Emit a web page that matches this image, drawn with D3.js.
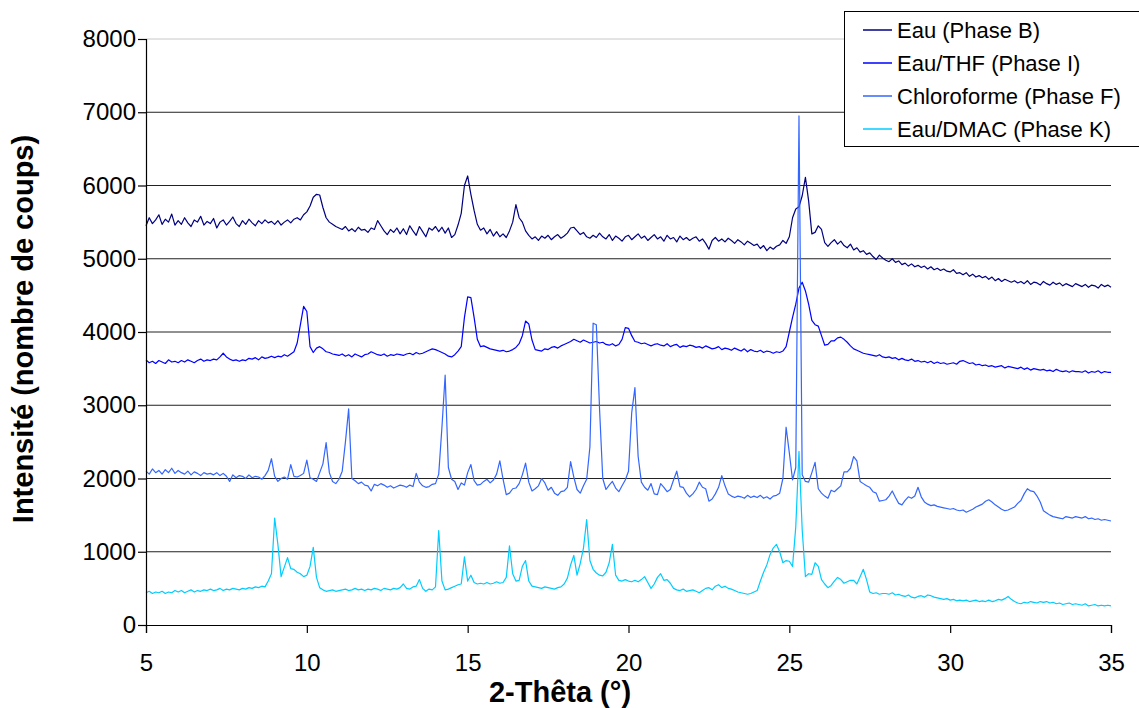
<!DOCTYPE html>
<html>
<head>
<meta charset="utf-8">
<script src="https://cdn.jsdelivr.net/npm/d3@7"></script>
<style>
  html, body { margin: 0; padding: 0; background: #fff; }
  svg { display: block; }
  text { font-family: "Liberation Sans", Arial, sans-serif; fill: #000; }
</style>
</head>
<body>
<svg id="chart" width="1139" height="708"></svg>
<script>
// ---- data (2-Thêta grid: 5.0° → 35.0°, step 0.1°) ----
const twoTheta = d3.range(301).map(i => +(5 + i * 0.1).toFixed(1));

const seriesNames = ["Eau (Phase B)", "Eau/THF (Phase I)", "Chloroforme (Phase F)", "Eau/DMAC (Phase K)"];
const seriesColors = ["#000080", "#0000FF", "#3366FF", "#00CCFF"];

const eauB = [
  5450,5560,5480,5530,5600,5470,5540,5500,5610,5460,
  5520,5470,5560,5490,5440,5530,5500,5580,5460,5510,
  5480,5550,5420,5500,5530,5460,5510,5570,5480,5440,
  5520,5470,5540,5490,5450,5520,5480,5530,5490,5510,
  5470,5520,5460,5500,5530,5490,5540,5560,5530,5600,
  5640,5720,5840,5880,5870,5700,5560,5500,5470,5440,
  5420,5400,5440,5380,5410,5370,5430,5390,5400,5360,
  5420,5400,5520,5450,5380,5330,5400,5360,5420,5340,
  5410,5330,5450,5380,5320,5440,5370,5300,5420,5390,
  5440,5370,5430,5350,5420,5290,5330,5460,5620,6000,
  6130,5880,5660,5470,5390,5420,5340,5400,5310,5370,
  5300,5340,5290,5380,5500,5740,5560,5500,5380,5320,
  5270,5300,5250,5310,5280,5320,5260,5300,5330,5280,
  5310,5350,5420,5430,5380,5330,5360,5300,5280,5320,
  5290,5350,5300,5270,5330,5250,5310,5280,5240,5300,
  5320,5260,5300,5340,5280,5310,5250,5290,5330,5270,
  5300,5240,5320,5270,5290,5230,5310,5260,5290,5250,
  5280,5300,5240,5270,5210,5130,5250,5290,5240,5270,
  5230,5280,5250,5210,5260,5230,5190,5240,5210,5180,
  5200,5140,5180,5110,5160,5130,5170,5190,5250,5210,
  5300,5560,5680,5710,5860,6110,5790,5340,5360,5450,
  5400,5220,5170,5220,5260,5200,5240,5180,5150,5200,
  5120,5150,5090,5110,5060,5080,5030,4990,5050,5010,
  4980,4960,5000,4950,4970,4920,4940,4900,4930,4890,
  4910,4880,4900,4860,4890,4850,4870,4840,4860,4830,
  4820,4850,4800,4810,4780,4810,4760,4790,4750,4770,
  4740,4760,4720,4750,4700,4730,4690,4720,4700,4680,
  4700,4670,4690,4660,4700,4650,4680,4670,4640,4690,
  4660,4640,4680,4650,4670,4630,4660,4640,4620,4660,
  4640,4620,4650,4610,4640,4630,4600,4650,4620,4640,
  4610
];

const eauThfI = [
  3620,3580,3600,3570,3610,3590,3570,3620,3590,3600,
  3580,3610,3590,3620,3600,3580,3610,3630,3600,3620,
  3610,3630,3620,3660,3710,3660,3630,3610,3620,3600,
  3620,3610,3640,3630,3650,3620,3660,3640,3650,3670,
  3650,3670,3660,3690,3670,3700,3730,3850,4100,4350,
  4280,3800,3720,3780,3800,3770,3730,3720,3700,3690,
  3680,3700,3670,3690,3660,3700,3680,3660,3690,3700,
  3730,3710,3690,3680,3700,3670,3690,3680,3700,3690,
  3680,3700,3710,3690,3720,3700,3710,3730,3750,3770,
  3760,3740,3720,3700,3670,3660,3690,3740,3800,4200,
  4480,4470,4200,3900,3800,3810,3790,3770,3760,3750,
  3740,3750,3730,3740,3760,3790,3840,3950,4150,4110,
  3890,3760,3750,3740,3770,3760,3790,3800,3780,3810,
  3830,3850,3870,3900,3880,3860,3890,3870,3850,3860,
  3870,3850,3860,3830,3820,3840,3810,3830,3900,4060,
  4050,3950,3870,3860,3840,3850,3830,3810,3830,3840,
  3820,3810,3840,3800,3820,3830,3790,3810,3800,3820,
  3810,3790,3800,3780,3810,3790,3770,3780,3800,3760,
  3780,3770,3750,3780,3760,3740,3770,3730,3760,3740,
  3730,3750,3720,3740,3730,3710,3730,3720,3740,3800,
  4000,4200,4380,4600,4680,4560,4380,4160,4100,4080,
  3950,3820,3830,3880,3880,3920,3930,3900,3860,3810,
  3770,3750,3730,3710,3700,3690,3680,3670,3690,3660,
  3650,3660,3640,3650,3620,3640,3620,3610,3630,3600,
  3610,3590,3600,3580,3600,3570,3590,3570,3580,3560,
  3570,3580,3560,3600,3610,3590,3570,3580,3550,3560,
  3540,3550,3530,3540,3520,3530,3540,3510,3530,3520,
  3510,3500,3520,3490,3510,3480,3500,3490,3480,3490,
  3470,3480,3460,3490,3470,3460,3470,3450,3470,3460,
  3460,3450,3470,3440,3460,3450,3470,3440,3460,3450,
  3450
];

const chloroformeF = [
  2100,2060,2130,2080,2110,2060,2120,2080,2140,2070,
  2110,2080,2060,2100,2050,2090,2070,2040,2080,2060,
  2070,2050,2080,2040,2070,2030,1960,2050,2010,2040,
  2030,2000,2050,2010,2030,2020,1990,2040,2110,2270,
  2030,1960,2000,2020,1990,2190,2030,2020,2040,2070,
  2250,2010,1990,1960,2080,2200,2490,2080,1960,1930,
  1990,2100,2500,2950,2000,1970,1930,1950,1910,1900,
  1830,1920,1900,1930,1910,1880,1900,1870,1890,1910,
  1900,1880,1910,1890,2070,1950,1900,1880,1890,1920,
  1930,2060,2700,3410,2150,1990,1960,1850,1940,1910,
  2080,2190,1970,1910,1920,1960,1990,1940,1980,2060,
  2240,1990,1780,1800,1860,1870,1930,2050,2210,1950,
  1830,1860,1900,2000,1940,1840,1880,1800,1770,1820,
  1830,1880,2230,2020,1850,1800,1900,1990,2430,4120,
  4100,2950,2000,1850,1910,1960,1870,1820,1900,1980,
  2100,2900,3240,2300,1950,1880,1840,1930,1790,1780,
  1930,1880,1820,1850,1980,2100,1890,1880,1800,1750,
  1790,1850,1950,1880,1860,1690,1720,1790,1880,2040,
  1900,1790,1760,1740,1760,1750,1730,1770,1740,1760,
  1740,1770,1730,1750,1720,1760,1770,1800,2000,2700,
  2350,1980,2150,6950,2050,1960,1950,2080,2220,1860,
  1800,1760,1730,1840,1820,1860,1900,2090,2090,2140,
  2300,2240,1960,1930,1900,1880,1820,1800,1690,1700,
  1710,1760,1830,1740,1660,1640,1700,1750,1730,1760,
  1880,1750,1680,1650,1630,1640,1620,1610,1600,1590,
  1580,1590,1570,1560,1570,1540,1560,1580,1610,1630,
  1650,1690,1710,1680,1640,1610,1580,1560,1570,1590,
  1610,1660,1700,1790,1860,1830,1820,1760,1680,1560,
  1530,1500,1480,1470,1460,1450,1480,1470,1460,1480,
  1470,1460,1480,1450,1460,1440,1450,1430,1440,1430,
  1420
];

const eauDmacK = [
  440,460,430,450,440,460,430,450,440,470,
  450,470,440,460,480,450,470,460,480,470,
  490,470,480,500,470,490,480,500,490,480,
  500,490,510,500,520,510,530,520,600,700,
  1460,1100,660,790,920,770,760,720,700,660,
  680,800,1060,650,510,480,460,470,480,460,
  470,480,490,470,480,500,480,490,470,490,
  480,500,490,470,500,490,480,500,490,510,
  560,500,490,520,530,620,500,460,490,480,
  520,1290,600,480,490,510,530,550,560,930,
  600,680,580,560,570,560,580,560,570,590,
  570,580,650,1080,700,600,610,800,880,600,
  530,520,510,500,520,510,500,490,510,520,
  560,640,820,950,680,840,1050,1440,880,760,
  710,680,670,720,850,1100,680,610,600,620,
  600,590,610,590,620,660,580,500,560,650,
  700,610,620,570,500,480,470,490,460,470,
  480,460,440,470,500,510,480,530,550,510,
  530,500,490,470,450,440,430,420,430,450,
  470,600,720,820,960,1050,1100,1000,850,880,
  870,800,1340,2370,1300,660,700,690,850,800,
  620,560,510,540,600,650,620,570,590,610,
  610,560,660,760,620,450,430,440,420,430,
  430,420,440,410,420,400,390,410,380,370,
  390,400,380,410,400,380,370,360,350,360,
  340,350,330,340,330,340,320,330,340,320,
  330,320,340,320,330,350,340,360,390,350,
  320,300,290,310,300,320,310,300,320,310,
  320,300,310,290,300,280,290,300,280,290,
  280,270,290,260,270,280,260,270,260,270,
  260
];

const yTicks = [0, 1000, 2000, 3000, 4000, 5000, 6000, 7000, 8000];
const xTicks = [5, 10, 15, 20, 25, 30, 35];
const yTitle = "Intensité (nombre de coups)";
const xTitle = "2-Thêta (°)";

// ---- drawing ----
const svg = d3.select("#chart");
const x = d3.scaleLinear().domain([5, 35]).range([146, 1111]);
const y = d3.scaleLinear().domain([0, 8000]).range([625, 39]);

// gridlines
svg.append("g")
  .selectAll("line")
  .data(yTicks.filter(d => d > 0))
  .join("line")
  .attr("x1", x(5)).attr("x2", x(35))
  .attr("y1", d => y(d)).attr("y2", d => y(d))
  .attr("stroke", d => d === 8000 ? "#c8c8c8" : "#222")
  .attr("stroke-width", 1);

// series
const allSeries = [eauB, eauThfI, chloroformeF, eauDmacK];
const line = d3.line().x((d, i) => x(twoTheta[i])).y(d => y(d));
svg.append("g")
  .selectAll("path")
  .data(allSeries)
  .join("path")
  .attr("d", d => line(d))
  .attr("fill", "none")
  .attr("stroke", (d, i) => seriesColors[i])
  .attr("stroke-width", 1.2)
  .attr("stroke-linejoin", "round");

// axes
const yAxis = svg.append("g")
  .attr("transform", `translate(${x(5)},0)`)
  .call(d3.axisLeft(y).tickValues(yTicks).tickSize(8).tickPadding(2).tickFormat(d3.format("d")));
const xAxis = svg.append("g")
  .attr("transform", `translate(0,${y(0)})`)
  .call(d3.axisBottom(x).tickValues(xTicks).tickSize(8).tickPadding(21).tickFormat(d3.format("d")));
[yAxis, xAxis].forEach(g => {
  g.select(".domain").attr("stroke", "#000").attr("stroke-width", 1.2);
  g.selectAll(".tick line").attr("stroke", "#000").attr("stroke-width", 1.2);
  g.selectAll(".tick text").attr("font-size", 24).attr("font-family", "Liberation Sans, Arial, sans-serif").attr("fill", "#000");
});

// titles
svg.append("text")
  .attr("transform", `translate(33,329) rotate(-90)`)
  .attr("text-anchor", "middle")
  .attr("font-size", 29)
  .attr("font-weight", "bold")
  .text(yTitle);
svg.append("text")
  .attr("x", 560).attr("y", 702)
  .attr("text-anchor", "middle")
  .attr("font-size", 29)
  .attr("font-weight", "bold")
  .text(xTitle);

// legend
const lg = svg.append("g");
lg.append("rect")
  .attr("x", 844.5).attr("y", 11.5).attr("width", 310).attr("height", 135)
  .attr("fill", "#fff").attr("stroke", "#000").attr("stroke-width", 1);
const items = lg.selectAll("g.item")
  .data(seriesNames)
  .join("g")
  .attr("class", "item")
  .attr("transform", (d, i) => `translate(0,${30 + i * 33})`);
items.append("line")
  .attr("x1", 863).attr("x2", 892).attr("y1", 0).attr("y2", 0)
  .attr("stroke", (d, i) => seriesColors[i]).attr("stroke-width", 1.5);
items.append("text")
  .attr("x", 897).attr("y", 0).attr("dy", "0.35em")
  .attr("font-size", 22)
  .text(d => d);
</script>
</body>
</html>
